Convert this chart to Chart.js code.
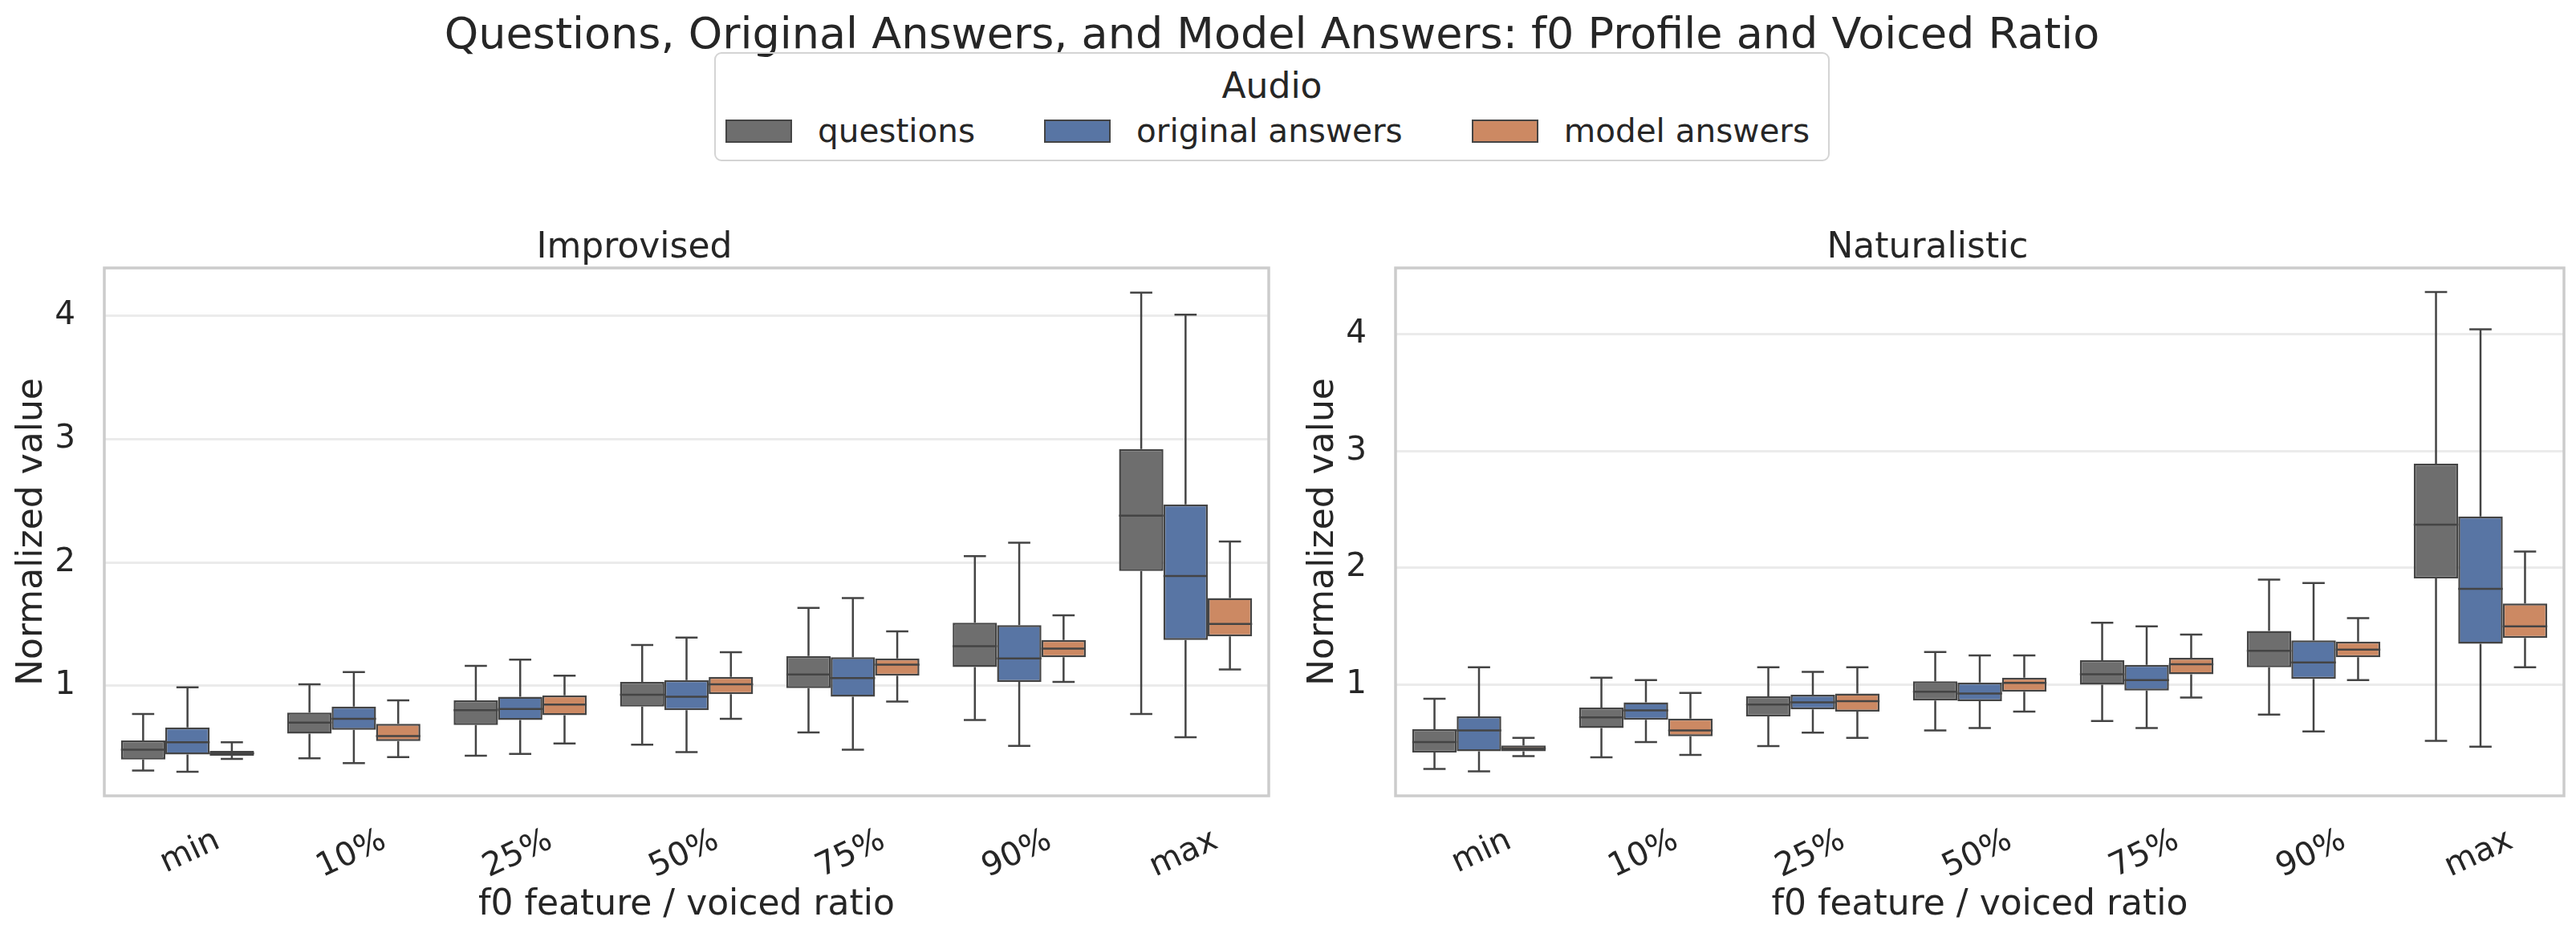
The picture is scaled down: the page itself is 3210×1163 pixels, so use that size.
<!DOCTYPE html>
<html>
<head>
<meta charset="utf-8">
<script src="https://cdn.jsdelivr.net/npm/chart.js@4.4.1/dist/chart.umd.min.js"></script>
<style>
  body { margin: 0; background: #fff; }
  #fig { position: relative; width: 3210px; height: 1163px; overflow: hidden;
         font-family: 'DejaVu Sans', sans-serif; color: #262626; }
  #suptitle { position: absolute; left: 0; width: 3170px; top: 15px; text-align: center;
              font-size: 54px; line-height: 1; white-space: nowrap; }
  #legend { position: absolute; left: 890px; top: 65px; width: 1386px; height: 132px;
            border: 2.5px solid #d4d4d4; border-radius: 9px; box-sizing: content-box; }
  #legendTitle { position: absolute; left: 0; right: 0; top: 18px; text-align: center;
                 font-size: 44px; line-height: 1; }
  #legendItems { position: absolute; left: 12px; top: 76px; display: flex; align-items: center;
                 font-size: 40.5px; line-height: 1; white-space: nowrap; }
  .patch { width: 79px; height: 25px; border: 2.5px solid #444; margin-right: 32px; }
  .item { display: flex; align-items: center; margin-right: 86px; }
  .panel { position: absolute; top: 260px; height: 903px; }
</style>
</head>
<body>
<div id="fig">
  <div id="suptitle">Questions, Original Answers, and Model Answers: f0 Profile and Voiced Ratio</div>
  <div id="legend">
    <div id="legendTitle">Audio</div>
    <div id="legendItems"></div>
  </div>
  <div class="panel" style="left:0;width:1610px"><canvas id="improvised" width="1610" height="903"></canvas></div>
  <div class="panel" style="left:1609px;width:1601px"><canvas id="naturalistic" width="1601" height="903"></canvas></div>
</div>
<script>
const features = ['min', '10%', '25%', '50%', '75%', '90%', 'max'];
const series = ['questions', 'original answers', 'model answers'];
const colors = ['#6e6e6e', '#5875a4', '#cc8963'];
const yTicks = [1, 2, 3, 4];

// one row per feature: [whisker low, q1, median, q3, whisker high]
const improvisedQuestions = [
  [0.31, 0.40, 0.48, 0.555, 0.77],
  [0.41, 0.61, 0.70, 0.78, 1.01],
  [0.43, 0.68, 0.80, 0.88, 1.16],
  [0.52, 0.83, 0.925, 1.03, 1.33],
  [0.62, 0.98, 1.09, 1.24, 1.63],
  [0.72, 1.15, 1.32, 1.51, 2.05],
  [0.77, 1.93, 2.38, 2.92, 4.19]
];
const improvisedOriginal = [
  [0.30, 0.44, 0.54, 0.66, 0.985],
  [0.37, 0.64, 0.73, 0.83, 1.11],
  [0.445, 0.72, 0.81, 0.91, 1.21],
  [0.46, 0.80, 0.91, 1.045, 1.39],
  [0.48, 0.91, 1.06, 1.23, 1.71],
  [0.51, 1.03, 1.22, 1.49, 2.16],
  [0.58, 1.37, 1.89, 2.47, 4.01]
];
const improvisedModel = [
  [0.405, 0.43, 0.45, 0.47, 0.54],
  [0.42, 0.55, 0.59, 0.69, 0.88],
  [0.53, 0.76, 0.845, 0.92, 1.08],
  [0.73, 0.93, 1.01, 1.07, 1.27],
  [0.87, 1.08, 1.17, 1.22, 1.44],
  [1.03, 1.23, 1.30, 1.37, 1.57],
  [1.13, 1.40, 1.50, 1.71, 2.17]
];
const naturalisticQuestions = [
  [0.28, 0.42, 0.51, 0.62, 0.88],
  [0.38, 0.63, 0.72, 0.805, 1.06],
  [0.475, 0.73, 0.83, 0.90, 1.15],
  [0.61, 0.865, 0.94, 1.03, 1.28],
  [0.69, 1.00, 1.09, 1.21, 1.53],
  [0.745, 1.15, 1.29, 1.46, 1.90],
  [0.52, 1.91, 2.37, 2.89, 4.36]
];
const naturalisticOriginal = [
  [0.26, 0.43, 0.61, 0.73, 1.15],
  [0.51, 0.70, 0.78, 0.85, 1.04],
  [0.59, 0.79, 0.85, 0.915, 1.11],
  [0.63, 0.86, 0.925, 1.02, 1.25],
  [0.63, 0.95, 1.04, 1.17, 1.50],
  [0.60, 1.05, 1.19, 1.38, 1.87],
  [0.47, 1.35, 1.82, 2.44, 4.04]
];
const naturalisticModel = [
  [0.39, 0.43, 0.455, 0.48, 0.545],
  [0.40, 0.56, 0.61, 0.71, 0.93],
  [0.545, 0.77, 0.86, 0.925, 1.15],
  [0.77, 0.94, 1.015, 1.06, 1.25],
  [0.89, 1.09, 1.175, 1.23, 1.43],
  [1.04, 1.235, 1.30, 1.37, 1.57],
  [1.15, 1.40, 1.50, 1.695, 2.14]
];

const lineColor = '#444444';
const textColor = '#262626';
Chart.defaults.font.family = "'DejaVu Sans', sans-serif";
Chart.defaults.color = textColor;

// legend (shared by both panels)
const legendItems = document.getElementById('legendItems');
series.forEach((name, i) => {
  const item = document.createElement('div');
  item.className = 'item';
  if (i === series.length - 1) item.style.marginRight = '0';
  item.innerHTML = '<div class="patch" style="background:' + colors[i] + '"></div><span>' + name + '</span>';
  legendItems.appendChild(item);
});

// whiskers, caps and median lines on top of the floating bars
const boxWhiskers = {
  id: 'boxWhiskers',
  afterDatasetsDraw(chart) {
    const ctx = chart.ctx, y = chart.scales.y;
    ctx.save();
    ctx.strokeStyle = lineColor;
    ctx.lineWidth = 2.5;
    chart.data.datasets.forEach((ds, d) => {
      chart.getDatasetMeta(d).data.forEach((bar, i) => {
        const [lo, q1, med, q3, hi] = ds.stats[i];
        const half = bar.width / 2, cap = bar.width / 4;
        ctx.beginPath();
        ctx.moveTo(bar.x, y.getPixelForValue(q3));
        ctx.lineTo(bar.x, y.getPixelForValue(hi));
        ctx.moveTo(bar.x, y.getPixelForValue(q1));
        ctx.lineTo(bar.x, y.getPixelForValue(lo));
        ctx.moveTo(bar.x - cap, y.getPixelForValue(hi));
        ctx.lineTo(bar.x + cap, y.getPixelForValue(hi));
        ctx.moveTo(bar.x - cap, y.getPixelForValue(lo));
        ctx.lineTo(bar.x + cap, y.getPixelForValue(lo));
        ctx.moveTo(bar.x - half, y.getPixelForValue(med));
        ctx.lineTo(bar.x + half, y.getPixelForValue(med));
        ctx.stroke();
      });
    });
    ctx.restore();
  }
};

// light frame round the plot area
const frame = {
  id: 'frame',
  beforeDatasetsDraw(chart) {
    const {ctx, chartArea: a} = chart;
    ctx.save();
    ctx.strokeStyle = '#cccccc';
    ctx.lineWidth = 3.5;
    ctx.strokeRect(a.left, a.top, a.right - a.left, a.bottom - a.top);
    ctx.restore();
  }
};

function makeChart(id, title, groups, yMin, yMax, rightPad) {
  new Chart(document.getElementById(id), {
    type: 'bar',
    data: {
      labels: features,
      datasets: groups.map((stats, i) => ({
        label: series[i],
        data: stats.map(s => [s[1], s[3]]),
        stats: stats,
        backgroundColor: colors[i],
        borderColor: lineColor,
        borderWidth: 2.5,
        borderSkipped: false,
        barPercentage: 1.0,
        categoryPercentage: 0.8
      }))
    },
    options: {
      responsive: false,
      animation: false,
      devicePixelRatio: 1,
      layout: { padding: { left: 0, right: rightPad, top: 0, bottom: 0 } },
      plugins: {
        legend: { display: false },
        tooltip: { enabled: false },
        title: {
          display: true,
          text: title,
          color: textColor,
          font: { size: 44, weight: 'normal', lineHeight: 1 },
          padding: { top: 28, bottom: 2 }
        }
      },
      scales: {
        x: {
          grid: { display: false },
          border: { display: false },
          ticks: {
            autoSkip: false,
            minRotation: 25,
            maxRotation: 25,
            padding: 24,
            labelOffset: 38,
            color: textColor,
            font: { size: 40.5 }
          },
          title: {
            display: true,
            text: 'f0 feature / voiced ratio',
            color: textColor,
            font: { size: 44 },
            padding: { top: 0, bottom: 8 }
          },
          afterFit: s => { s.height = 171; }
        },
        y: {
          min: yMin,
          max: yMax,
          afterBuildTicks: s => { s.ticks = yTicks.map(v => ({ value: v })); },
          grid: { color: '#ebebeb', lineWidth: 3, drawTicks: false },
          border: { display: false },
          ticks: { padding: 36, color: textColor, font: { size: 40.5 } },
          title: {
            display: true,
            text: 'Normalized value',
            color: textColor,
            font: { size: 44 },
            padding: { top: 14 }
          },
          afterFit: s => { s.width = 130; }
        }
      }
    },
    plugins: [frame, boxWhiskers]
  });
}

makeChart('improvised', 'Improvised',
  [improvisedQuestions, improvisedOriginal, improvisedModel], 0.105, 4.39, 29);
makeChart('naturalistic', 'Naturalistic',
  [naturalisticQuestions, naturalisticOriginal, naturalisticModel], 0.05, 4.565, 15);
</script>
</body>
</html>
